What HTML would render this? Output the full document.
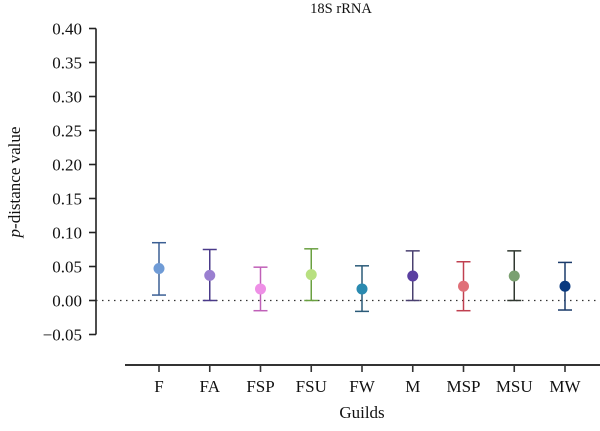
<!DOCTYPE html>
<html><head><meta charset="utf-8"><style>
body{margin:0;background:#fff}
svg text{font-family:"Liberation Serif",serif;fill:#111}
</style></head><body>
<svg width="600" height="426" viewBox="0 0 600 426">
<text x="341" y="13" font-size="14.5" text-anchor="middle">18S rRNA</text>
<g id="yaxis"></g>
<g id="xaxis"></g>
<g id="marks"></g>
<text transform="translate(20,182) rotate(-90)" font-size="17" text-anchor="middle"><tspan font-style="italic">p</tspan>-distance value</text>
<text x="362" y="418" font-size="17" text-anchor="middle">Guilds</text>
</svg>
<script>
const categories=["F","FA","FSP","FSU","FW","M","MSP","MSU","MW"];
const means=[0.047,0.037,0.017,0.038,0.017,0.036,0.021,0.036,0.021];
const upper=[0.085,0.075,0.049,0.076,0.051,0.073,0.057,0.073,0.056];
const lower=[0.008,0.0,-0.015,0.0,-0.016,0.0,-0.015,0.0,-0.014];
const yTicks=[0.40,0.35,0.30,0.25,0.20,0.15,0.10,0.05,0.00,-0.05];
const pointColors=["#6f9bd6","#9a7fd0","#ee8fe6","#b8e080","#2a8ab0","#5a3fa0","#e07078","#7aa070","#0a3a80"];
const barColors=["#3b5f94","#4a3a8a","#c060b8","#6aa040","#2a5a78","#4a4070","#c04050","#303830","#1a3a6a"];
const NS="http://www.w3.org/2000/svg";
const y=v=>300.5-v*680;
const x=i=>159+i*50.75;
function mk(tag,attrs,parent){const e=document.createElementNS(NS,tag);for(const k in attrs)e.setAttribute(k,attrs[k]);parent.appendChild(e);return e;}
const ya=document.getElementById('yaxis'),xa=document.getElementById('xaxis'),mg=document.getElementById('marks');
let l=mk('line',{x1:96,x2:96,y1:y(0.40),y2:y(-0.05),stroke:'#222','stroke-width':1.6},ya);


yTicks.forEach(v=>{
 const t=mk('line',{x1:89,x2:96,y1:y(v),y2:y(v),stroke:'#222','stroke-width':1.6},ya);
 
 
 const tx=mk('text',{x:82,y:y(v)+6,'font-size':17,'text-anchor':'end'},ya);
 tx.textContent=(v<0?'\u2212':'')+Math.abs(v).toFixed(2);
 
 
});
const zl=mk('line',{x1:96,x2:600,y1:y(0),y2:y(0),stroke:'#333','stroke-width':1.3,'stroke-dasharray':'1.5 4.5'},mg);


const xl=mk('line',{x1:125,x2:600,y1:365,y2:365,stroke:'#333','stroke-width':2},xa);


categories.forEach((c,i)=>{
 const t=mk('line',{x1:x(i),x2:x(i),y1:365,y2:372,stroke:'#333','stroke-width':1.6},xa);
 
 
 const tx=mk('text',{x:x(i),y:392,'font-size':17,'text-anchor':'middle'},xa);
 tx.textContent=c;
 
 
 const g=mk('g',{},mg);
 
 
 const col=barColors[i];
 mk('line',{x1:x(i),x2:x(i),y1:y(upper[i]),y2:y(lower[i]),stroke:col,'stroke-width':1.5},g);
 mk('line',{x1:x(i)-7,x2:x(i)+7,y1:y(upper[i]),y2:y(upper[i]),stroke:col,'stroke-width':1.5},g);
 mk('line',{x1:x(i)-7,x2:x(i)+7,y1:y(lower[i]),y2:y(lower[i]),stroke:col,'stroke-width':1.5},g);
 mk('circle',{cx:x(i),cy:y(means[i]),r:5.5,fill:pointColors[i]},g);
});
</script>
</body></html>
